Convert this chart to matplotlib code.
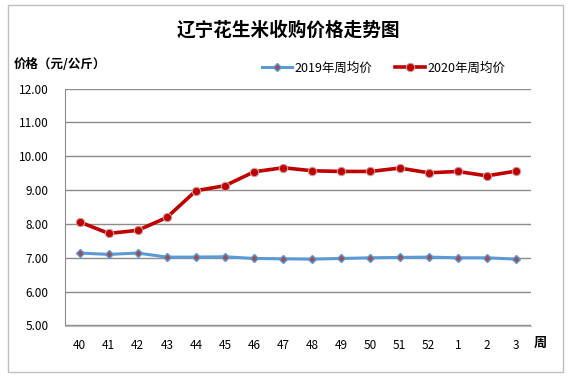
import matplotlib.pyplot as plt
from matplotlib.patches import Rectangle

plt.rcParams['font.family'] = ['Noto Sans CJK SC', 'DejaVu Sans']

weeks = ['40', '41', '42', '43', '44', '45', '46', '47', '48', '49', '50', '51', '52', '1', '2', '3']
price_2019 = [7.14, 7.10, 7.14, 7.02, 7.02, 7.03, 6.98, 6.97, 6.96, 6.98, 7.00, 7.01, 7.02, 7.00, 7.00, 6.96]
price_2020 = [8.06, 7.72, 7.81, 8.19, 8.98, 9.13, 9.54, 9.66, 9.57, 9.55, 9.55, 9.65, 9.51, 9.55, 9.42, 9.56]
yticks = [5, 6, 7, 8, 9, 10, 11, 12]

W, H = 571, 382
fig = plt.figure(figsize=(W / 100, H / 100), dpi=100)
# outer chart border
fig.patches.append(Rectangle((8 / W, 1 - 372 / H), 555 / W, 367 / H, transform=fig.transFigure,
                             fill=False, edgecolor='#bfbfbf', linewidth=1))

ax = fig.add_axes([65 / W, 1 - 325.5 / H, (530.5 - 65) / W, (325.5 - 88.5) / H])
x = list(range(len(weeks)))

ax.plot(x, price_2019, color='#5b9bd5', linewidth=2.2, marker='D', markersize=4,
        markerfacecolor='#9b4f5a', markeredgecolor='#5b9bd5', markeredgewidth=1, label='2019年周均价')
ax.plot(x, price_2020, color='#c00000', linewidth=2.6, marker='o', markersize=6,
        markerfacecolor='#c00000', markeredgecolor='#c8a0a0', markeredgewidth=0.8, label='2020年周均价')

ax.set_xlim(-0.5, len(weeks) - 0.5)
ax.set_ylim(5, 12)
ax.set_yticks(yticks)
ax.set_yticklabels(['%.2f' % v for v in yticks], fontsize=8.5)
ax.set_xticks(x)
ax.set_xticklabels(weeks, fontsize=8.5)
ax.tick_params(axis='x', length=0, pad=10)
ax.tick_params(axis='y', length=0, pad=12)
ax.grid(axis='y', color='#8c8c8c', linewidth=1)
ax.set_axisbelow(True)
for s in ['top', 'right']:
    ax.spines[s].set_visible(False)
ax.spines['left'].set_color('#8c8c8c')
ax.spines['bottom'].set_color('#bfbfbf')

fig.text(288 / W, 1 - 30 / H, '辽宁花生米收购价格走势图', ha='center', va='center',
         fontsize=13.4, fontweight='bold')
fig.text(14 / W, 1 - 64 / H, '价格（元/公斤）', ha='left', va='center', fontsize=9, fontweight='bold')
fig.text(540 / W, 1 - 343 / H, '周', ha='center', va='center', fontsize=9.5, fontweight='bold')

ax.legend(loc='center', bbox_to_anchor=(384 / W, 1 - 68 / H), bbox_transform=fig.transFigure,
          ncol=2, frameon=False, fontsize=9, handlelength=2.4, columnspacing=1.8, handletextpad=0.2)

fig.savefig('out.png', dpi=100)
